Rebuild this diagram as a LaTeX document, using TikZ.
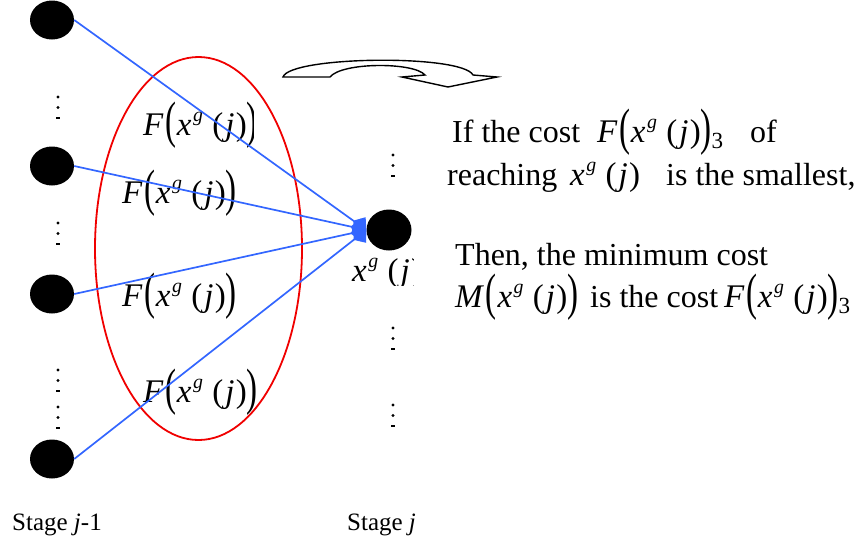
\documentclass[tikz,border=0pt]{standalone}
\usepackage{fontspec}
\setmainfont{Liberation Serif}
\usepackage{graphicx}
\usetikzlibrary{shapes.geometric,arrows.meta}
\definecolor{lineblue}{RGB}{51,102,255}
\definecolor{ringred}{RGB}{240,0,0}
\newcommand{\BLp}{\raisebox{-0.07em}{\scalebox{1}[1.55]{(}}}
\newcommand{\BRp}{\raisebox{-0.07em}{\scalebox{1}[1.55]{)}}}
\newcommand{\xgj}{\textit{x}\raisebox{0.42em}{\scalebox{0.6}{\kern0.08em\textit{g}}}\hspace{0.28em}(\kern0.06em\textit{j}\kern0.04em)}
\newcommand{\FX}[1]{\textit{#1}\kern0.05em\BLp\kern0.02em\xgj\BRp}
\tikzset{
  stnode/.style={ellipse,fill=black,draw=none,minimum width=44pt,minimum height=39pt,inner sep=0pt},
  conn/.style={draw=lineblue,line width=1.7pt,-{Kite[length=16pt,width=20pt,inset=8pt]}},
  lbl/.style={anchor=base west,inner sep=0pt,font=\fontsize{33}{36}\selectfont},
  txt/.style={anchor=base west,inner sep=0pt,font=\fontsize{32}{36}\selectfont},
  mth/.style={anchor=base west,inner sep=0pt,font=\fontsize{33}{36}\selectfont},
  stg/.style={anchor=base west,inner sep=0pt,font=\fontsize{25}{30}\selectfont},
}
\newcommand{\vdts}[2]{\fill (#1,#2) circle (1.7); \fill (#1,#2+10.5) circle (1.7); \fill (#1-1.6,#2+20.3) rectangle (#1+1.6,#2+21.5);}
\begin{document}
\begin{tikzpicture}[x=1pt,y=-1pt]
\useasboundingbox (0,0) rectangle (868,544);
% labels on the edges
\begin{scope}
\clip (0,0) rectangle (253,544);
\node[lbl] (f1) at (143,135) {\FX{F}};
\end{scope}
\node[lbl] (f2) at (122,203) {\FX{F}};
\node[lbl] (f3) at (122,306) {\FX{F}};
\node[lbl] (f4) at (143,402) {\FX{F}};
% red ring
\draw[ringred,line width=1.8pt] (198.5,248.5) ellipse [x radius=103.5,y radius=191.5];
% nodes
\node[stnode] (n1) at (52,20) {};
\node[stnode] (n2) at (52,166) {};
\node[stnode] (n3) at (52,294) {};
\node[stnode] (n4) at (52,459) {};
\node[stnode,minimum width=45pt,minimum height=41pt] (nr) at (389,230) {};
\begin{scope}
\clip (0,0) rectangle (413,285);
\node[lbl] (lr) at (352,281) {\xgj};
\end{scope}
% connectors
\draw[conn] (n1.east) -- (nr.west);
\draw[conn] (n2.east) -- (nr.west);
\draw[conn] (n3.east) -- (nr.west);
\draw[conn] (n4.east) -- (nr.west);
% dots
\vdts{58}{97}
\vdts{58}{223}
\vdts{58}{370}
\vdts{58}{407}
\vdts{393}{155}
\vdts{393}{328}
\vdts{393}{405}
% curved arrow
\draw[black,line width=1.4pt,fill=white,line join=miter]
  (283,77) .. controls (290,56) and (462,54) .. (473,75)
  -- (497,77) -- (448,87) -- (402,77) -- (425,75)
  .. controls (414,62) and (342,62) .. (330,77) -- cycle;
% right text
\node[txt] (t1a) at (452,142) {If the cost};
\node[mth] (t1b) at (597,142) {\FX{F}\textsubscript{3}};
\node[txt] (t1c) at (750,142) {of};
\node[txt] (t2a) at (447,185) {reaching};
\node[mth] (t2b) at (570,185) {\xgj};
\node[txt] (t2c) at (666,185) {is the smallest,};
\node[txt] (t3a) at (455,265) {Then, the minimum cost};
\node[mth] (t4a) at (455,307) {\FX{M}};
\node[txt] (t4b) at (590,307) {is the cost};
\node[mth] (t4c) at (724,307) {\FX{F}\textsubscript{3}};
% stage labels
\node[stg] (s1) at (12,530) {Stage \textit{j}-1};
\node[stg] (s2) at (347,530) {Stage \textit{j}};
\end{tikzpicture}
\end{document}
